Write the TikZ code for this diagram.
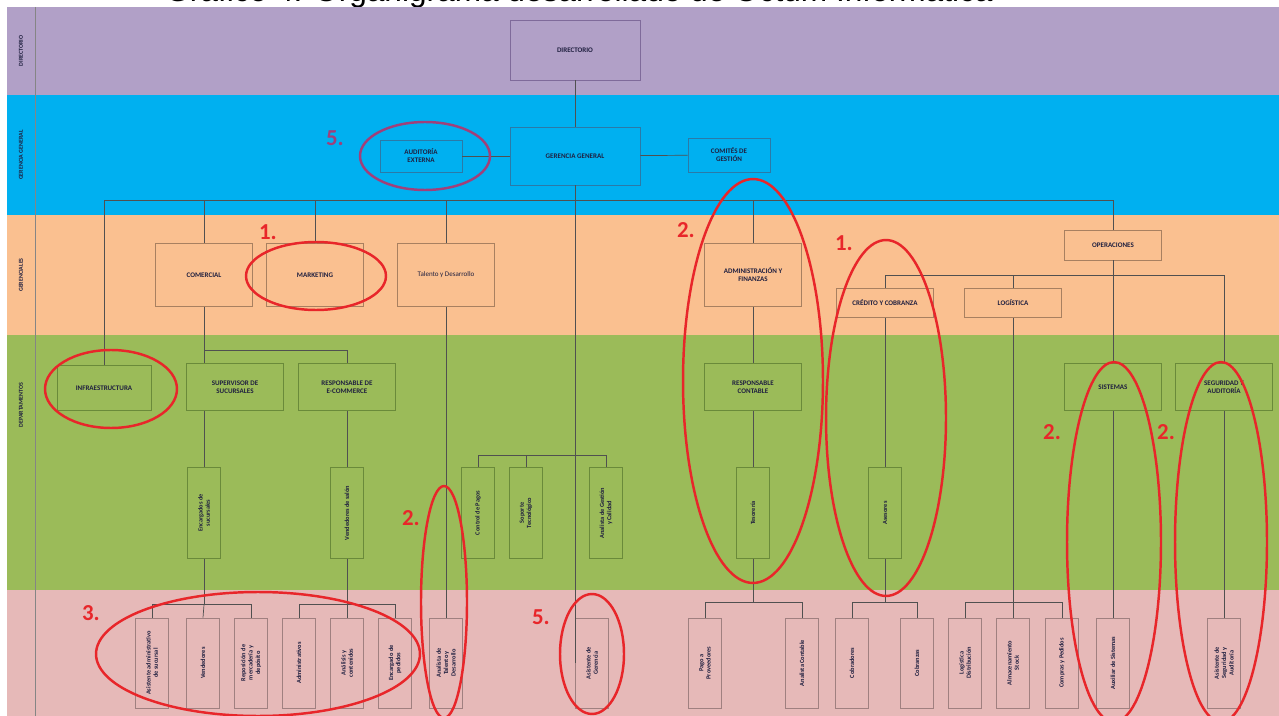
\documentclass[tikz,border=0pt]{standalone}
\usepackage{fontspec}
\setmainfont{Carlito}
\newfontfamily\titlefont{Liberation Sans}
\usepackage{xcolor}

\definecolor{bandDir}{HTML}{B1A0C7}
\definecolor{bandGer}{HTML}{00B0F0}
\definecolor{bandMid}{HTML}{FAC090}
\definecolor{bandDep}{HTML}{9BBB59}
\definecolor{bandBot}{HTML}{E6B9B8}
\definecolor{lineDir}{HTML}{7F6A9A}
\definecolor{lineGer}{HTML}{2A7AA8}
\definecolor{lineMid}{HTML}{A88060}
\definecolor{lineDep}{HTML}{6A8A3A}
\definecolor{lineBot}{HTML}{A08080}
\definecolor{linkgray}{HTML}{505050}
\definecolor{boxtext}{HTML}{1F1F3F}
\definecolor{ringred}{HTML}{E8262A}
\definecolor{ringplum}{HTML}{A0407A}

\tikzset{
  link/.style={draw=linkgray,line width=0.4pt},
  unit/.style={draw,line width=0.4pt,align=center,inner sep=1pt,text=boxtext,
    font=\fontsize{4}{4.6}\selectfont\bfseries},
  dirbox/.style={unit,draw=lineDir,fill=bandDir},
  gerbox/.style={unit,draw=lineGer,fill=bandGer},
  midbox/.style={unit,draw=lineMid,fill=bandMid,minimum width=1.94cm,minimum height=1.26cm},
  depbox/.style={unit,draw=lineDep,fill=bandDep,minimum width=1.94cm,minimum height=0.94cm},
  depvert/.style={unit,draw=lineDep,fill=bandDep,rotate=90,minimum width=1.82cm,minimum height=0.66cm,
    font=\fontsize{3.6}{4.2}\selectfont\bfseries},
  botvert/.style={unit,draw=lineBot,fill=bandBot,rotate=90,minimum width=1.8cm,minimum height=0.66cm,
    font=\fontsize{3.6}{4.2}\selectfont\bfseries},
  bandlabel/.style={rotate=90,text=boxtext,font=\fontsize{3.4}{4}\selectfont\bfseries},
  ring/.style={draw=ringred,line width=1.4pt},
  notemark/.style={text=ringred,font=\fontsize{13}{13}\selectfont\bfseries},
}

\begin{document}
\begin{tikzpicture}[x=0.02cm,y=-0.02cm]
\useasboundingbox (0,0) rectangle (1279,716);
\clip (0,0) rectangle (1279,716);

% title, cut by the page edge
\node[anchor=base west,inner sep=0pt,font=\titlefont\fontsize{18}{18}\selectfont] (title) at (165,2)
  {Gráfico 4: Organigrama desarrollado de Octum Informática};

% bands
\fill[bandDir] (7,7) rectangle (1279,95);
\fill[bandGer] (7,95) rectangle (1279,215);
\fill[bandMid] (7,215) rectangle (1279,335);
\fill[bandDep] (7,335) rectangle (1279,590);
\fill[bandBot] (7,590) rectangle (1279,716);
\draw[linkgray!70,line width=0.4pt] (35,7) -- (35,716);

\node[bandlabel] (lDir) at (21,51) {DIRECTORIO};
\node[bandlabel] (lGer) at (21,155) {GERENCIA GENERAL};
\node[bandlabel] (lMid) at (21,275) {GERENCIALES};
\node[bandlabel] (lDep) at (21,405) {DEPARTAMENTOS};

% named points
\coordinate (busA) at (104,200);
\coordinate (busB) at (1113,200);
\coordinate (opeBus) at (885,275);
\coordinate (comSplit) at (204,350);
\coordinate (midSplit) at (478,455);

% directorio / gerencia general
\node[dirbox,minimum width=2.6cm,minimum height=1.2cm] (dir) at (575,50) {DIRECTORIO};
\node[gerbox,minimum width=2.6cm,minimum height=1.16cm] (gg) at (575,156) {GERENCIA GENERAL};
\node[gerbox,minimum width=1.64cm,minimum height=0.64cm] (aud) at (421,156) {AUDITORÍA\\EXTERNA};
\node[gerbox,minimum width=1.64cm,minimum height=0.68cm] (cgest) at (729,155) {COMITÉS DE\\GESTIÓN};

% gerencias
\node[midbox] (com) at (204,275) {COMERCIAL};
\node[midbox] (mkt) at (315,275) {MARKETING};
\node[midbox,font=\fontsize{4}{4.6}\selectfont] (tal) at (446,275) {Talento y Desarrollo};
\node[midbox] (adm) at (753,275) {ADMINISTRACIÓN Y\\FINANZAS};
\node[midbox,minimum height=0.6cm] (ope) at (1113,245) {OPERACIONES};
\node[midbox,minimum height=0.58cm] (cred) at (885,303) {CRÉDITO Y COBRANZA};
\node[midbox,minimum height=0.58cm] (logi) at (1013,303) {LOGÍSTICA};

% departamentos
\node[depbox,minimum width=1.88cm,minimum height=0.9cm] (infra) at (104,388) {INFRAESTRUCTURA};
\node[depbox] (sup) at (235,387) {SUPERVISOR DE\\SUCURSALES};
\node[depbox] (ecom) at (347,387) {RESPONSABLE DE\\E-COMMERCE};
\node[depbox] (rcont) at (753,387) {RESPONSABLE\\CONTABLE};
\node[depbox] (sys) at (1113,387) {SISTEMAS};
\node[depbox] (seg) at (1224,387) {SEGURIDAD Y\\AUDITORÍA};

\node[depvert] (enc) at (204,513) {Encargados de\\sucursales};
\node[depvert] (ven) at (347,513) {Vendedores de salón};
\node[depvert] (mA) at (478,513) {Control de Pagos};
\node[depvert] (mB) at (526,513) {Soporte\\Tecnológico};
\node[depvert] (mC) at (606,513) {Analista de Gestión\\y Calidad};
\node[depvert] (teso) at (753,513) {Tesorería};
\node[depvert] (ases) at (885,513) {Asesores};

% puestos
\node[botvert] (a1) at (152,663) {Asistente administrativo\\de sucursal};
\node[botvert] (a2) at (203,663) {Vendedores};
\node[botvert] (a3) at (251,663) {Reposición de\\mercadería y\\depósito};
\node[botvert] (b1) at (299,663) {Administrativos};
\node[botvert] (b2) at (347,663) {Análisis y\\contenidos};
\node[botvert] (b3) at (395,663) {Encargado de\\pedidos};
\node[botvert] (tal2) at (446,663) {Analista de\\Talento y\\Desarrollo};
\node[botvert] (asg) at (592,663) {Asistente de\\Gerencia};
\node[botvert] (p1) at (705,663) {Pago a\\Proveedores};
\node[botvert] (p2) at (802,663) {Analista Contable};
\node[botvert] (c1) at (852,663) {Cobradores};
\node[botvert] (c2) at (917,663) {Cobranzas};
\node[botvert] (l1) at (965,663) {Logística\\Distribución};
\node[botvert] (l2) at (1013,663) {Almacenamiento\\Stock};
\node[botvert] (l3) at (1062,663) {Compras y Pedidos};
\node[botvert] (s1) at (1113,663) {Auxiliar de Sistemas};
\node[botvert] (s2) at (1224,663) {Asistente de\\Seguridad y\\Auditoría};

% connectors
\draw[link] (dir) -- (gg);
\draw[link] (aud) -- (gg);
\draw[link] (gg) -- (cgest);
\draw[link] (busA) -- (busB);
\foreach \n in {infra,com,mkt,tal,adm,ope}
  \draw[link] (\n.north) -- (\n.north |- busA);
\draw[link] (gg.south) -- (gg.south |- asg.north);
% comercial
\draw[link] (com.south) -- (sup.north -| com.south);
\draw[link] (sup.south -| com.south) -- (enc.east);
\draw[link] (comSplit) -| (ecom.north);
\draw[link] (ecom) -- (ven);
\draw[link] (enc.west) -- ++(0,46) coordinate (encSplit);
\draw[link] (a1.east) |- (encSplit) -| (a3.east);
\draw[link] (encSplit) -- (a2.east);
\draw[link] (ven.west) -- ++(0,46) coordinate (venSplit);
\draw[link] (b1.east) |- (venSplit) -| (b3.east);
\draw[link] (venSplit) -- (b2.east);
\draw[link] (tal.south) -- (tal2.east);
% gerencia general
\draw[link] (mA.east) |- (midSplit) -| (mC.east);
\draw[link] (mB.east) -- (mB.east |- midSplit);
% administracion
\draw[link] (adm) -- (rcont);
\draw[link] (rcont) -- (teso);
\draw[link] (teso.west) -- ++(0,44) coordinate (tesoSplit);
\draw[link] (p1.east) |- (tesoSplit) -| (p2.east);
% operaciones
\draw[link] (ope) -- (sys);
\draw[link] (cred.north) |- (opeBus) -| (seg.north);
\draw[link] (logi.north) -- (logi.north |- opeBus);
\draw[link] (cred) -- (ases);
\draw[link] (ases.west) -- ++(0,44) coordinate (asesSplit);
\draw[link] (c1.east) |- (asesSplit) -| (c2.east);
\draw[link] (logi.south) -- (logi.south |- tesoSplit) coordinate (logiSplit);
\draw[link] (l1.east) |- (logiSplit) -| (l3.east);
\draw[link] (logiSplit) -- (l2.east);
\draw[link] (sys) -- (s1);
\draw[link] (seg) -- (s2);

% red marks
\draw[ring,draw=ringplum] (425,156) ellipse [x radius=1.3cm,y radius=0.68cm];
\draw[ring] (316,276) ellipse [x radius=1.4cm,y radius=0.68cm];
\draw[ring] (111,389) ellipse [x radius=1.32cm,y radius=0.78cm];
\draw[ring] (753,381) ellipse [x radius=1.4cm,y radius=4.04cm];
\draw[ring] (886,418) ellipse [x radius=1.2cm,y radius=3.56cm];
\draw[ring] (1114,542) ellipse [x radius=0.94cm,y radius=3.6cm];
\draw[ring] (1221,542) ellipse [x radius=0.92cm,y radius=3.6cm];
\draw[ring] (444,602) ellipse [x radius=0.46cm,y radius=2.32cm];
\draw[ring] (258,654) ellipse [x radius=3.24cm,y radius=1.24cm];
\draw[ring] (592,654) ellipse [x radius=0.64cm,y radius=1.2cm];

\node[notemark,text=ringplum] (n5a) at (335,138) {5.};
\node[notemark] (n1a) at (268,232) {1.};
\node[notemark] (n2a) at (686,230) {2.};
\node[notemark] (n1b) at (844,243) {1.};
\node[notemark] (n2b) at (1052,432) {2.};
\node[notemark] (n2c) at (1166,432) {2.};
\node[notemark] (n2d) at (411,518) {2.};
\node[notemark] (n3a) at (91,613) {3.};
\node[notemark] (n5b) at (541,617) {5.};
\end{tikzpicture}
\end{document}
